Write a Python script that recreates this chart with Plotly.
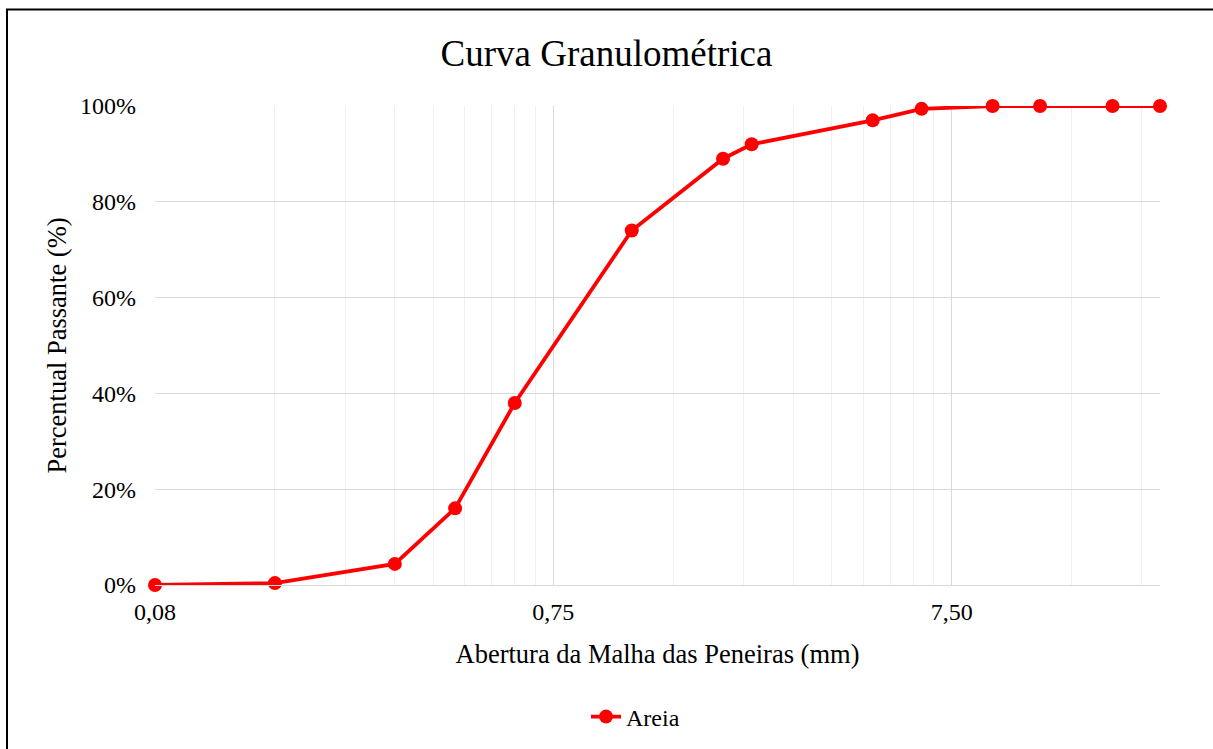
import math
import plotly.graph_objects as go

# Data
abertura_mm = [0.075, 0.15, 0.3, 0.425, 0.6, 1.18, 2.0, 2.36, 4.75, 6.3, 9.5, 12.5, 19.0, 25.0]
passante = [0.0, 0.004, 0.044, 0.16, 0.38, 0.74, 0.89, 0.92, 0.97, 0.994, 1.0, 1.0, 1.0, 1.0]
serie_nome = "Areia"
major_ticks = [0.075, 0.75, 7.5]
major_labels = ["0,08", "0,75", "7,50"]
minor_mult = [2, 3, 4, 5, 6, 7, 8, 9]
y_ticks = [0, 0.2, 0.4, 0.6, 0.8, 1.0]
y_labels = ["0%", "20%", "40%", "60%", "80%", "100%"]

minor_vals = [m * b for b in major_ticks for m in minor_mult if m * b <= 25.0001]

FONT = "Liberation Serif, Times New Roman, serif"

W, H = 1213, 749
L, R, T, B = 155, 1213 - 1160, 106, 749 - 585
PW, PH = W - L - R, H - T - B

fig = go.Figure()
fig.add_trace(go.Scatter(
    x=abertura_mm, y=passante, name=serie_nome, mode="lines+markers",
    line=dict(color="#ff0000", width=3.8),
    marker=dict(color="#ff0000", size=14),
    cliponaxis=False,
))

fig.update_layout(
    width=W, height=H,
    margin=dict(l=L, r=R, t=T, b=B, autoexpand=False),
    paper_bgcolor="white", plot_bgcolor="white",
    font=dict(family=FONT, size=24, color="black"),
    title=dict(text="Curva Granulométrica", x=0.5, xanchor="center",
               y=1 - 53 / H, yanchor="middle",
               font=dict(family=FONT, size=37, color="black")),
    showlegend=True,
    legend=dict(orientation="h", x=0.5 - 22 / PW, xanchor="center",
                y=(585 - 717) / PH, yanchor="middle",
                font=dict(family=FONT, size=24, color="black")),
    shapes=[dict(type="rect", xref="paper", yref="paper",
                 x0=(7 - L) / PW, x1=(1216 - L) / PW,
                 y0=(585 - 752) / PH, y1=(585 - 9.5) / PH,
                 line=dict(color="black", width=2), layer="below")],
)

fig.update_xaxes(
    type="log", automargin=False,
    range=[math.log10(0.075), math.log10(25)],
    tickmode="array", tickvals=major_ticks, ticktext=major_labels,
    showgrid=True, gridcolor="#d9d9d9", gridwidth=1,
    minor=dict(tickmode="array", tickvals=minor_vals, showgrid=True,
               gridcolor="#efefef", gridwidth=1, ticks=""),
    showline=True, linecolor="#d9d9d9", linewidth=1,
    ticks="", zeroline=False,
    ticklabelstandoff=5,
    tickfont=dict(family=FONT, size=24),
    title=dict(text="Abertura da Malha das Peneiras (mm)",
               font=dict(family=FONT, size=26.5), standoff=20),
)
fig.update_yaxes(
    range=[0, 1.0], tickmode="array", automargin=False,
    tickvals=y_ticks, ticktext=y_labels,
    showgrid=True, gridcolor="#d9d9d9", gridwidth=1,
    zeroline=False, showline=False, ticks="",
    ticklabelstandoff=18,
    tickfont=dict(family=FONT, size=24),
    title=dict(text="Percentual Passante (%)",
               font=dict(family=FONT, size=26.5), standoff=5),
)

fig.write_html("out.html", config={"displayModeBar": False},
               post_script="document.body.style.margin='0';")
